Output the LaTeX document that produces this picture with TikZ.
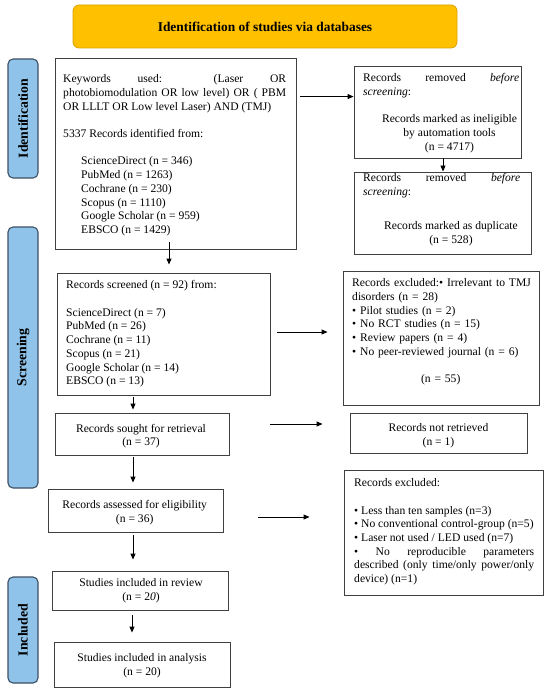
\documentclass[tikz,border=0pt]{standalone}
\usepackage{fontspec}
\setmainfont{Liberation Serif}
\usetikzlibrary{arrows.meta,calc}
\setlength\parindent{0pt}
\definecolor{sidefill}{HTML}{8FC3EA}
\definecolor{sidedraw}{HTML}{3E5064}
\definecolor{headfill}{HTML}{FFC000}
\definecolor{headdraw}{HTML}{D9A300}
\begin{document}
\begin{tikzpicture}[x=1pt,y=-1pt,
  box/.style={draw=black!75, line width=0.9pt, inner sep=0pt},
  side/.style={draw=sidedraw, fill=sidefill, line width=1.1pt, rounded corners=5pt, inner sep=0pt, minimum width=30pt},
  sidelbl/.style={rotate=90, font=\fontsize{13.8}{16}\selectfont\bfseries, inner sep=0pt},
  txt/.style={font=\fontsize{11.6}{13.7}\selectfont, inner sep=0pt},
  arr/.style={line width=0.9pt, -{Triangle[length=6pt,width=5pt]}},
]
\fill[white] (0,0) rectangle (550,695);
\useasboundingbox (0,0) rectangle (550,695);

% header
\node[draw=headdraw, fill=headfill, rounded corners=6pt, line width=0.8pt,
  minimum width=384pt, minimum height=43pt,
  font=\fontsize{13.4}{16}\selectfont\bfseries] (head) at (265,26.5) {Identification of studies via databases};

% side bars
\node[side, minimum height=119pt] (idbar) at (23,118.5) {};
\node[sidelbl] (idlbl) at (idbar) {Identification};
\node[side, minimum height=261pt] (scbar) at (23,357.5) {};
\node[sidelbl] (sclbl) at (scbar) {Screening};
\node[side, minimum height=106pt] (inbar) at (23,630) {};
\node[sidelbl] (inlbl) at (inbar) {Included};

% boxes
\node[box, minimum width=241pt, minimum height=191pt] (kw) at (175.5,153.5) {};
\node[box, minimum width=167pt, minimum height=92pt] (rem1) at (437.5,112) {};
\node[box, minimum width=177pt, minimum height=82pt] (rem2) at (442.5,213) {};
\node[box, minimum width=213pt, minimum height=122pt] (scr) at (163.5,334) {};
\node[box, minimum width=196pt, minimum height=134pt] (exc1) at (441,338) {};
\node[box, minimum width=174pt, minimum height=42pt] (sought) at (142,434) {};
\node[box, minimum width=177pt, minimum height=40pt] (notret) at (438.5,433) {};
\node[box, minimum width=175pt, minimum height=43pt] (assess) at (135.5,510.5) {};
\node[box, minimum width=199pt, minimum height=125pt] (exc2) at (443.5,532.5) {};
\node[box, minimum width=176pt, minimum height=39pt] (review) at (140,590.5) {};
\node[box, minimum width=176pt, minimum height=45pt] (analysis) at (142,664.5) {};

% texts
\node[txt, anchor=north west, text width=223pt, align=justify] (kwt) at (63,74.5)
{Keywords used: (Laser OR\linebreak photobiomodulation OR low level) OR ( PBM\linebreak OR LLLT OR Low level Laser) AND (TMJ)\par\vspace{13.7pt}5337 Records identified from:\par\vspace{13.7pt}\hspace*{18pt}ScienceDirect (n = 346)\par\hspace*{18pt}PubMed (n = 1263)\par\hspace*{18pt}Cochrane (n = 230)\par\hspace*{18pt}Scopus (n = 1110)\par\hspace*{18pt}Google Scholar (n = 959)\par\hspace*{18pt}EBSCO (n = 1429)};

\node[txt, anchor=north west, text width=156pt, align=justify] (rem1t) at (363,73.5)
{Records removed \textit{before}\linebreak\textit{screening}:};
\node[txt, anchor=north, align=center] (rem1c) at (449.5,114.5)
{Records marked as ineligible\\by automation tools\\(n = 4717)};

\node[txt, anchor=north west, text width=157pt, align=justify] (rem2t) at (363,173.5)
{Records removed \textit{before}\linebreak\textit{screening}:};
\node[txt, anchor=north, align=center] (rem2c) at (451,221.5)
{Records marked as duplicate\\(n = 528)};

\node[txt, anchor=north west, align=left] (scrt) at (66,280.5)
{Records screened (n = 92) from:\\[13.7pt]ScienceDirect (n = 7)\\PubMed (n = 26)\\Cochrane (n = 11)\\Scopus (n = 21)\\Google Scholar (n = 14)\\EBSCO (n = 13)};

\node[txt, anchor=north west, text width=177pt, align=left] (exc1t) at (352,278.5)
{\mbox{Records excluded:• Irrelevant to TMJ}\par disorders (n = 28)\par • Pilot studies (n = 2)\par • No RCT studies (n = 15)\par • Review papers (n = 4)\par \mbox{• No peer-reviewed journal (n = 6)}\par\vspace{13.7pt}{\centering (n = 55)\par}};

\node[txt, anchor=north west, text width=180pt, align=justify] (exc2t) at (354,478.5)
{Records excluded:\par\vspace{13.7pt}\mbox{• Less than ten samples (n=3)}\par\mbox{• No conventional control-group (n=5)}\par\mbox{• Laser not used / LED used (n=7)}\par • No reproducible parameters\linebreak described (only time/only power/only\linebreak device) (n=1)};

\node[txt, align=center] (soughtt) at (141,436) {Records sought for retrieval\\(n = 37)};
\node[txt, align=center] (notrett) at (438.5,436) {Records not retrieved\\(n = 1)};
\node[txt, align=center] (assesst) at (134.7,512.5) {Records assessed for eligibility\\(n = 36)};
\node[txt, align=center] (reviewt) at (141,591) {Studies included in review\\(n = 2\textit{0})};
\node[txt, align=center] (analysist) at (142,666) {Studies included in analysis\\(n = 20)};

% arrows
\coordinate (a1) at ($(kw.north east)+(4,39)$);
\draw[arr] (a1) -- (a1 -| rem1.west);
\coordinate (a2) at ($(rem1.south)+(5.5,0)$);
\draw[arr] (a2) -- (a2 |- rem2.north);
\coordinate (a3) at ($(kw.south)+(-6.5,-7)$);
\draw[arr] (a3) -- ($(a3 |- scr.north)+(0,-8)$);
\coordinate (a4) at ($(scr.east)+(7,-2)$);
\draw[arr] (a4) -- ($(a4 -| exc1.west)+(-15,0)$);
\coordinate (a5) at ($(scr.south)+(-30.5,2)$);
\draw[arr] (a5) -- ($(a5 |- sought.north)+(0,-3)$);
\coordinate (a6) at ($(sought.east)+(41,-10)$);
\draw[arr] (a6) -- ($(a6 -| notret.west)+(-27,0)$);
\coordinate (a7) at ($(sought.south)+(-9,2)$);
\draw[arr] (a7) -- ($(a7 |- assess.north)+(0,-6)$);
\coordinate (a8) at ($(assess.east)+(35,6.5)$);
\draw[arr] (a8) -- ($(a8 -| exc2.west)+(-34,0)$);
\coordinate (a9) at ($(assess.south)+(-2.5,3)$);
\draw[arr] (a9) -- ($(a9 |- review.north)+(0,-11)$);
\coordinate (a10) at ($(review.south)+(-8,5)$);
\draw[arr] (a10) -- ($(a10 |- analysis.north)+(0,-9)$);
\end{tikzpicture}
\end{document}
